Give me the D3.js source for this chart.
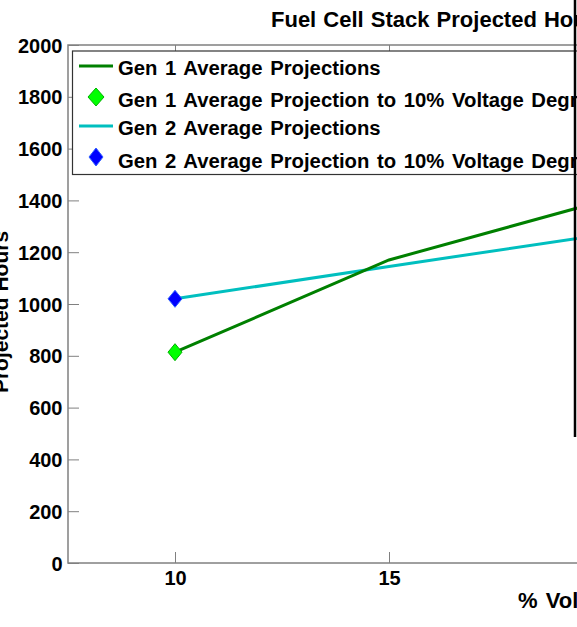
<!DOCTYPE html>
<html>
<head>
<meta charset="utf-8">
<script src="https://cdn.jsdelivr.net/npm/d3@7"></script>
<style>
  html, body { margin: 0; padding: 0; background: #fff; overflow: hidden; }
  svg { display: block; }
  text { font-family: "Liberation Sans", Arial, sans-serif; font-weight: bold; }
</style>
</head>
<body>
<script>
// Voltage degradation levels (%) and projected stack hours
const degradation = [10, 15, 20];
const gen1Hours = [814, 1170, 1398];
const gen2Hours = [1020, 1145, 1268];
// Projections to 10% voltage degradation (single points)
const gen1At10 = [{ x: 10, y: 814 }];
const gen2At10 = [{ x: 10, y: 1020 }];

const yTicks = [0, 200, 400, 600, 800, 1000, 1200, 1400, 1600, 1800, 2000];
const xTicks = [10, 15, 20];

const legendLabels = [
  "Gen 1 Average Projections",
  "Gen 1 Average Projection to 10% Voltage Degradation",
  "Gen 2 Average Projections",
  "Gen 2 Average Projection to 10% Voltage Degradation"
];

const W = 577, H = 627;
const plotL = 68, plotR = 710, plotT = 45, plotB = 563;

const svg = d3.select("body").append("svg")
  .attr("width", W).attr("height", H);

const x = d3.scaleLinear().domain([7.5, 22.5]).range([plotL, plotR]);
const y = d3.scaleLinear().domain([0, 2000]).range([plotB, plotT]);

const axisColor = "#808080";
const fontCss = "'Liberation Sans', Arial, sans-serif";

// Axes box
svg.append("rect")
  .attr("x", plotL).attr("y", plotT)
  .attr("width", plotR - plotL).attr("height", plotB - plotT)
  .attr("fill", "none").attr("stroke", axisColor).attr("stroke-width", 1.5);

// Y axis (ticks point inward)
const yAxis = svg.append("g")
  .attr("transform", `translate(${plotL},0)`)
  .call(d3.axisLeft(y).tickValues(yTicks).tickSizeInner(-11).tickSizeOuter(0).tickFormat(d3.format("d")));
yAxis.select(".domain").remove();
yAxis.selectAll(".tick line").attr("stroke", axisColor);
yAxis.selectAll(".tick text")
  .attr("x", -5.5).attr("dy", "0.35em").attr("font-size", 20).attr("fill", "#000")
  .style("font-family", fontCss).style("font-weight", "bold");

// X axis (bottom, ticks inward)
const xAxis = svg.append("g")
  .attr("transform", `translate(0,${plotB})`)
  .call(d3.axisBottom(x).tickValues(xTicks).tickSizeInner(-11).tickSizeOuter(0).tickFormat(d3.format("d")));
xAxis.select(".domain").remove();
xAxis.selectAll(".tick line").attr("stroke", axisColor);
xAxis.selectAll(".tick text")
  .attr("y", 22).attr("dy", 0).attr("font-size", 20).attr("fill", "#000")
  .style("font-family", fontCss).style("font-weight", "bold");

// Top axis ticks
const xTop = svg.append("g")
  .attr("transform", `translate(0,${plotT})`)
  .call(d3.axisTop(x).tickValues(xTicks).tickSizeInner(-8).tickSizeOuter(0).tickFormat(""));
xTop.select(".domain").remove();
xTop.selectAll(".tick line").attr("stroke", axisColor);

// Series lines
const line = d3.line().x((d, i) => x(degradation[i])).y(d => y(d));
svg.append("path").datum(gen2Hours)
  .attr("d", line).attr("fill", "none")
  .attr("stroke", "#00bfbf").attr("stroke-width", 3);
svg.append("path").datum(gen1Hours)
  .attr("d", line).attr("fill", "none")
  .attr("stroke", "#008000").attr("stroke-width", 3);

// Diamond markers
function diamond(g, cx, cy, hw, hh, fill, stroke) {
  g.append("path")
    .attr("d", `M${cx},${cy - hh}L${cx + hw},${cy}L${cx},${cy + hh}L${cx - hw},${cy}Z`)
    .attr("fill", fill).attr("stroke", stroke).attr("stroke-width", 1);
}
gen1At10.forEach(d => diamond(svg, x(d.x), y(d.y), 7, 8.5, "#00ff00", "#00b000"));
gen2At10.forEach(d => diamond(svg, x(d.x), y(d.y), 7, 8.5, "#0000ff", "#3060ff"));

// Legend
const lg = svg.append("g");
lg.append("rect")
  .attr("x", 72.5).attr("y", 51).attr("width", 640).attr("height", 123.5)
  .attr("fill", "#fff").attr("stroke", "#333").attr("stroke-width", 1.2);
const sampleY = [66, 97, 126, 157];
const textY = [74.5, 107, 134.5, 168];
lg.append("line").attr("x1", 79).attr("x2", 113).attr("y1", sampleY[0]).attr("y2", sampleY[0])
  .attr("stroke", "#008000").attr("stroke-width", 3);
diamond(lg, 96, sampleY[1], 8, 9, "#00ff00", "#00b000");
lg.append("line").attr("x1", 79).attr("x2", 113).attr("y1", sampleY[2]).attr("y2", sampleY[2])
  .attr("stroke", "#00bfbf").attr("stroke-width", 3);
diamond(lg, 96, sampleY[3], 7, 9, "#0000ff", "#3060ff");
lg.selectAll("text.lbl").data(legendLabels).join("text")
  .attr("class", "lbl")
  .attr("x", 118).attr("y", (d, i) => textY[i])
  .attr("font-size", 20.3).attr("word-spacing", 2).attr("fill", "#000")
  .text(d => d);

// Title and axis labels
svg.append("text")
  .attr("x", 271).attr("y", 26.5)
  .attr("font-size", 22).attr("word-spacing", 1).attr("fill", "#000")
  .text("Fuel Cell Stack Projected Hours vs. % Voltage Degradation");
svg.append("text")
  .attr("x", 518).attr("y", 608)
  .attr("font-size", 22).attr("word-spacing", 2).attr("fill", "#000")
  .text("% Voltage Degradation");
svg.append("text")
  .attr("transform", "translate(8,312) rotate(-90)")
  .attr("text-anchor", "middle")
  .attr("font-size", 21).attr("fill", "#000")
  .text("Projected Hours");

// Frame edge on the right
svg.append("line")
  .attr("x1", 575).attr("x2", 575).attr("y1", 0).attr("y2", 437)
  .attr("stroke", "#000").attr("stroke-width", 2.5);
</script>
</body>
</html>
